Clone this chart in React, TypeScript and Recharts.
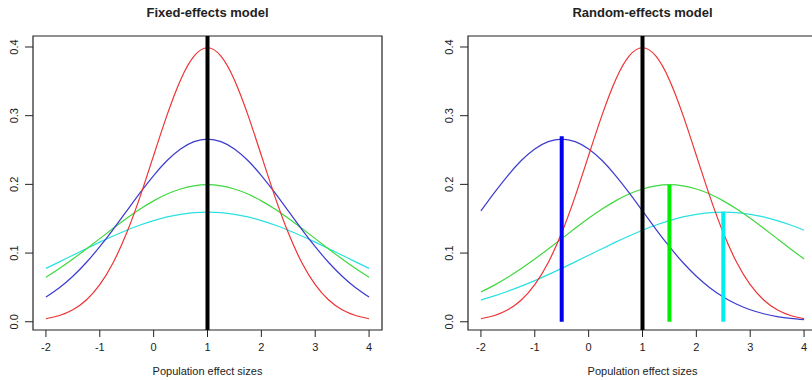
import React from 'react';
import { LineChart, Line, XAxis, YAxis, ReferenceLine, ReferenceArea } from 'recharts';

// x grid the curves were read at (step 0.25)
const xValues = [
  -2, -1.75, -1.5, -1.25, -1, -0.75, -0.5, -0.25, 0, 0.25, 0.5, 0.75, 1,
  1.25, 1.5, 1.75, 2, 2.25, 2.5, 2.75, 3, 3.25, 3.5, 3.75, 4,
];

const xTicks = [-2, -1, 0, 1, 2, 3, 4];
const yTicks = [0, 0.1, 0.2, 0.3, 0.4];

// Fixed-effects panel: all centred on 1
const fixedRed = [0.0044, 0.0091, 0.0175, 0.0317, 0.0540, 0.0863, 0.1295, 0.1826, 0.2420, 0.3011, 0.3521, 0.3867, 0.3989, 0.3867, 0.3521, 0.3011, 0.2420, 0.1826, 0.1295, 0.0863, 0.0540, 0.0317, 0.0175, 0.0091, 0.0044];
const fixedBlue = [0.0360, 0.0496, 0.0663, 0.0863, 0.1093, 0.1346, 0.1613, 0.1880, 0.2129, 0.2347, 0.2516, 0.2623, 0.2660, 0.2623, 0.2516, 0.2347, 0.2129, 0.1880, 0.1613, 0.1346, 0.1093, 0.0863, 0.0663, 0.0496, 0.0360];
const fixedGreen = [0.0648, 0.0775, 0.0913, 0.1060, 0.1210, 0.1360, 0.1506, 0.1641, 0.1760, 0.1859, 0.1933, 0.1979, 0.1995, 0.1979, 0.1933, 0.1859, 0.1760, 0.1641, 0.1506, 0.1360, 0.1210, 0.1060, 0.0913, 0.0775, 0.0648];
const fixedCyan = [0.0777, 0.0872, 0.0968, 0.1064, 0.1159, 0.1249, 0.1333, 0.1408, 0.1473, 0.1526, 0.1564, 0.1588, 0.1596, 0.1588, 0.1564, 0.1526, 0.1473, 0.1408, 0.1333, 0.1249, 0.1159, 0.1064, 0.0968, 0.0872, 0.0777];

// Random-effects panel
const randomRed = fixedRed;
const randomBlue = [0.1613, 0.1880, 0.2129, 0.2347, 0.2516, 0.2623, 0.2660, 0.2623, 0.2516, 0.2347, 0.2129, 0.1880, 0.1613, 0.1346, 0.1093, 0.0863, 0.0663, 0.0496, 0.0360, 0.0254, 0.0175, 0.0117, 0.0076, 0.0048, 0.0030];
const randomGreen = [0.0432, 0.0533, 0.0648, 0.0775, 0.0913, 0.1060, 0.1210, 0.1360, 0.1506, 0.1641, 0.1760, 0.1859, 0.1933, 0.1979, 0.1995, 0.1979, 0.1933, 0.1859, 0.1760, 0.1641, 0.1506, 0.1360, 0.1210, 0.1060, 0.0913];
const randomCyan = [0.0316, 0.0376, 0.0444, 0.0518, 0.0599, 0.0686, 0.0777, 0.0872, 0.0968, 0.1064, 0.1159, 0.1249, 0.1333, 0.1408, 0.1473, 0.1526, 0.1564, 0.1588, 0.1596, 0.1588, 0.1564, 0.1526, 0.1473, 0.1408, 0.1333];

// study means and their peak heights (vertical bars in the random panel)
const commonMean = 1;
const studyMeans = [-0.5, 1.5, 2.5];
const studyPeaks = [0.27, 0.199, 0.16];
const studyColors = ['#0000ee', '#00ee00', '#00eeee'];

const curveColors = { red: '#ee3333', blue: '#3b3bcf', green: '#3fd83f', cyan: '#2ae0e0' };

const X_DOMAIN: [number, number] = [-2.24, 4.24];
const Y_DOMAIN: [number, number] = [-0.012, 0.416];
const FONT = '"Liberation Sans", Arial, Helvetica, sans-serif';
const INK = '#222';

const buildRows = (red: number[], blue: number[], green: number[], cyan: number[]) =>
  xValues.map((x, i) => ({ x, red: red[i], blue: blue[i], green: green[i], cyan: cyan[i] }));

const fixedData = buildRows(fixedRed, fixedBlue, fixedGreen, fixedCyan);
const randomData = buildRows(randomRed, randomBlue, randomGreen, randomCyan);

const YTick = (props: any) => {
  const { x, y, payload } = props;
  const bx = x - 5;
  return (
    <text x={bx} y={y} transform={`rotate(-90, ${bx}, ${y})`} textAnchor="middle"
      fontSize={11} fontFamily={FONT} fill={INK}>
      {payload.value.toFixed(1)}
    </text>
  );
};

const Panel: React.FC<{ data: any[]; title: string; left: number; random?: boolean }> = ({ data, title, left, random }) => (
  <div style={{ position: 'absolute', left, top: 0, width: 406, height: 380 }}>
    <div style={{
      position: 'absolute', left: 33, width: 349, top: 5, textAlign: 'center',
      fontFamily: FONT, fontWeight: 'bold', fontSize: 13, color: INK,
    }}>
      {title}
    </div>
    <LineChart width={406} height={380} data={data} margin={{ top: 36, right: 24, left: 0, bottom: 0 }}>
      <XAxis dataKey="x" type="number" domain={X_DOMAIN} ticks={xTicks} interval={0} allowDataOverflow
        axisLine={false} tickLine={{ stroke: INK }} tickSize={7} tickMargin={6} height={50}
        tick={{ fontSize: 11, fontFamily: FONT, fill: INK }}
        label={{ value: 'Population effect sizes', position: 'insideBottom', offset: 5, fontSize: 11, fontFamily: FONT, fill: INK }} />
      <YAxis type="number" domain={Y_DOMAIN} ticks={yTicks} interval={0} allowDataOverflow width={33}
        axisLine={false} tickLine={{ stroke: INK }} tickSize={8} tick={<YTick />} />
      <Line type="natural" dataKey="cyan" stroke={curveColors.cyan} strokeWidth={1.2} dot={false} isAnimationActive={false} />
      <Line type="natural" dataKey="green" stroke={curveColors.green} strokeWidth={1.2} dot={false} isAnimationActive={false} />
      <Line type="natural" dataKey="blue" stroke={curveColors.blue} strokeWidth={1.2} dot={false} isAnimationActive={false} />
      <Line type="natural" dataKey="red" stroke={curveColors.red} strokeWidth={1.2} dot={false} isAnimationActive={false} />
      <ReferenceLine x={commonMean} stroke="#000" strokeWidth={4} />
      {random && studyMeans.map((m, i) => (
        <ReferenceLine key={m} segment={[{ x: m, y: 0 }, { x: m, y: studyPeaks[i] }]}
          stroke={studyColors[i]} strokeWidth={4} />
      ))}
      <ReferenceArea x1={X_DOMAIN[0]} x2={X_DOMAIN[1]} y1={Y_DOMAIN[0]} y2={Y_DOMAIN[1]}
        fill="none" fillOpacity={0} stroke={INK} strokeWidth={1.2} />
    </LineChart>
  </div>
);

export default function App() {
  return (
    <div style={{ position: 'absolute', left: 0, top: 0, width: 812, height: 380, overflow: 'hidden', background: '#fff' }}>
      <Panel data={fixedData} title="Fixed-effects model" left={0} />
      <Panel data={randomData} title="Random-effects model" left={435} random />
    </div>
  );
}
